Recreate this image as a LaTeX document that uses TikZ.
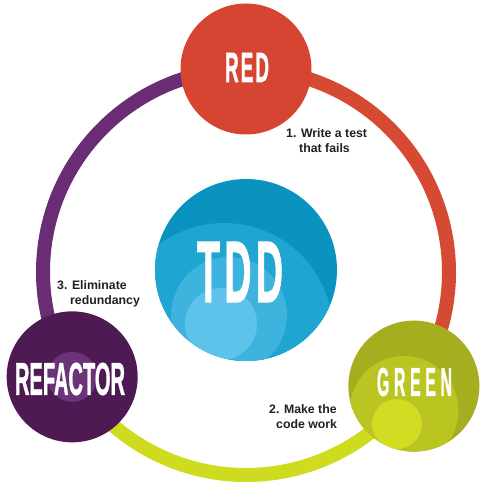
\documentclass[tikz,border=0pt]{standalone}
\usepackage{fontspec}
\usepackage{graphicx}
\setmainfont{Liberation Sans}
\newfontfamily\titlefont{Liberation Sans}[FakeBold=1.6]
\definecolor{ringred}{HTML}{D64A33}
\definecolor{ringpurple}{HTML}{6A2C75}
\definecolor{ringyellow}{HTML}{CEDB1F}
\definecolor{redc}{HTML}{D64532}
\definecolor{refA}{HTML}{4E1A54}
\definecolor{refB}{HTML}{6B3478}
\definecolor{grnA}{HTML}{A4AE1E}
\definecolor{grnB}{HTML}{BAC522}
\definecolor{grnC}{HTML}{D2DC23}
\definecolor{tddA}{HTML}{0A93BF}
\definecolor{tddB}{HTML}{1FA5D2}
\definecolor{tddC}{HTML}{3DB3DE}
\definecolor{tddD}{HTML}{5EC3EA}
\definecolor{labelgray}{HTML}{231F20}
\begin{document}
\begin{tikzpicture}[x=1pt,y=1pt,
  ringseg/.style={line width=14pt},
  bigdot/.style={circle, inner sep=0pt, minimum size=131pt},
  title/.style={text=white, inner sep=0pt, font=\titlefont\bfseries},
  steplabel/.style={anchor=base west, inner sep=0pt, text=labelgray,
    font=\fontsize{12.3}{14.5}\selectfont\bfseries}]
\useasboundingbox (0,0) rectangle (489,497);
\coordinate (C) at (246,225);
% circle centres on the ring
\coordinate (redpos) at ([shift={(90:203)}]C);
\coordinate (greenpos) at ([shift={(-34.2:203)}]C);
\coordinate (refpos) at ([shift={(211.1:203)}]C);
% ring segments
\draw[ringseg, ringred] (greenpos) arc[start angle=-34.2, end angle=90, radius=203];
\draw[ringseg, ringpurple] (redpos) arc[start angle=90, end angle=211.1, radius=203];
\draw[ringseg, ringyellow] (refpos) arc[start angle=211.1, end angle=325.8, radius=203];
% TDD circle
\node[circle, inner sep=0pt, minimum size=182pt, fill=tddA] (tdd) at (246,227) {};
\begin{scope}
  \clip (tdd.center) circle[radius=91];
  \fill[tddB] (224,165) circle[radius=109];
  \fill[tddC] (229,182) circle[radius=58];
  \fill[tddD] (221,173) circle[radius=36];
\end{scope}
\node[title] (tddtext) at (240,225) {\resizebox{86pt}{60pt}{T\kern.12em D\kern.12em D}};
% RED
\node[bigdot, fill=redc] (red) at (redpos) {};
\node[title] (redtext) at (247,429.5) {\resizebox{44pt}{29pt}{R\kern.1em E\kern.1em D}};
% GREEN
\node[bigdot, fill=grnA] (green) at (greenpos) {};
\begin{scope}
  \clip (green.center) circle[radius=65.5];
  \fill[grnB] (404,86.5) circle[radius=54.5];
  \fill[grnC] (397,73) circle[radius=25];
\end{scope}
\node[title] (greentext) at (414.5,115) {\resizebox{75pt}{28pt}{G\kern.3em R\kern.3em E\kern.3em E\kern.3em N}};
% REFACTOR
\node[bigdot, fill=refA] (refactor) at (refpos) {};
\fill[refB] (refactor.center) circle[radius=25];
\node[title] (reftext) at (70,118) {\resizebox{110pt}{32pt}{REFACTOR}};
% step labels
\node[steplabel] (step1) at (286,359) {\begin{tabular}[t]{@{}l@{}}1. Write a test\\\hspace*{13pt}that fails\end{tabular}};
\node[steplabel] (step2) at (269,83) {\begin{tabular}[t]{@{}l@{}}2. Make the\\\hspace*{7pt}code work\end{tabular}};
\node[steplabel] (step3) at (57,207) {\begin{tabular}[t]{@{}l@{}}3. Eliminate\\\hspace*{13pt}redundancy\end{tabular}};
\end{tikzpicture}
\end{document}
